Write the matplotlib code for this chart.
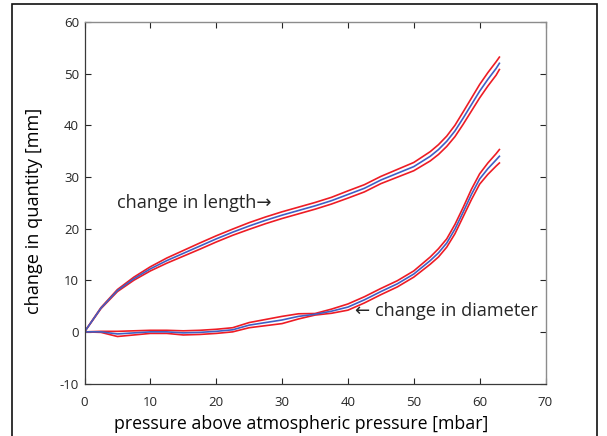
import matplotlib
matplotlib.use("Agg")
import matplotlib.pyplot as plt
from matplotlib.patches import Rectangle
import numpy as np

# pressure above atmospheric [mbar]
pressure = [0, 2.5, 5, 7.5, 10, 12.5, 15, 17.5, 20, 22.5, 25, 27.5, 30, 32.5,
            35, 37.5, 40, 42.5, 45, 47.5, 50, 52.5, 53.75, 55, 56.25, 57.5,
            58.75, 60, 61.25, 62.5, 63]

# change in length [mm]: mean and spread
length_mean = [0, 4.6, 8.0, 10.3, 12.2, 13.8, 15.2, 16.6, 18.0, 19.3, 20.5,
               21.6, 22.6, 23.5, 24.4, 25.4, 26.6, 27.8, 29.4, 30.7, 32.0,
               34.0, 35.3, 36.9, 38.9, 41.4, 44.0, 46.6, 48.9, 51.0, 52.0]
length_std = [0, 0.1, 0.2, 0.3, 0.4, 0.5, 0.55, 0.6, 0.6, 0.6, 0.65, 0.65,
              0.65, 0.65, 0.65, 0.65, 0.7, 0.7, 0.7, 0.75, 0.8, 0.9, 0.95,
              1.0, 1.1, 1.2, 1.25, 1.3, 1.3, 1.3, 1.2]

# change in diameter [mm]: mean and spread
diam_mean = [0, 0, -0.4, -0.2, 0.0, 0.0, -0.2, -0.1, 0.1, 0.4, 1.3, 1.8, 2.3,
             3.0, 3.4, 4.0, 4.8, 6.2, 7.8, 9.3, 11.2, 13.8, 15.3, 17.2, 19.9,
             23.2, 26.6, 29.6, 31.6, 33.3, 34.0]
diam_std = [0, 0.1, 0.5, 0.4, 0.3, 0.3, 0.4, 0.4, 0.4, 0.4, 0.5, 0.6, 0.7, 0.5,
            0.15, 0.4, 0.6, 0.6, 0.6, 0.6, 0.6, 0.7, 0.8, 0.8, 0.9, 0.9, 1.0,
            1.0, 1.1, 1.2, 1.3]

x_ticks = [0, 10, 20, 30, 40, 50, 60, 70]
y_ticks = [-10, 0, 10, 20, 30, 40, 50, 60]

_BLUE = "#3f5fc4"
_RED = "#ee1c25"
_TEXT = "#262626"
_FAMILY = ["Open Sans", "DejaVu Sans"]

plt.rcParams.update({
    "font.family": _FAMILY,
    "axes.unicode_minus": False,
    "text.color": _TEXT,
    "xtick.color": _TEXT,
    "ytick.color": _TEXT,
})

fig = plt.figure(figsize=(6.07, 4.36), dpi=100)
ax = fig.add_axes([84.5 / 607, 52.5 / 436, 461 / 607, 361.5 / 436])

p = np.array(pressure)
for mean, std in ((length_mean, length_std), (diam_mean, diam_std)):
    m = np.array(mean)
    s = np.array(std)
    ax.plot(p, m + s, color=_RED, lw=1.2)
    ax.plot(p, m - s, color=_RED, lw=1.2)
    ax.plot(p, m, color=_BLUE, lw=1.2)

ax.set_xlim(0, 70)
ax.set_ylim(-10, 60)
ax.set_xticks(x_ticks)
ax.set_yticks(y_ticks)
ax.tick_params(direction="in", length=4, width=0.8, labelsize=9.5,
               top=True, right=True)
ax.tick_params(axis="x", pad=9)
ax.tick_params(axis="y", pad=4)
for side in ("left", "bottom"):
    ax.spines[side].set_color("#3a3a3a")
    ax.spines[side].set_linewidth(0.9)
for side in ("top", "right"):
    ax.spines[side].set_color("#8c8c8c")
    ax.spines[side].set_linewidth(1.0)

ax.set_xlabel("pressure above atmospheric pressure [mbar]", fontsize=12.8)
ax.xaxis.set_label_coords(0.4696, -0.088)
ax.set_ylabel("change in quantity [mm]", fontsize=13.1)
ax.yaxis.set_label_coords(-0.09, 0.477)

ax.text(4.9, 25.0, "change in length\u2192", fontsize=13.1, va="center",
        family=_FAMILY)
ax.text(41.0, 4.1, "\u2190 change in diameter", fontsize=13.1, va="center",
        family=_FAMILY)

fig.patches.append(Rectangle((12 / 607, -0.05), 585 / 607, 1.05 - 4 / 436,
                             transform=fig.transFigure, fill=False,
                             edgecolor="#111111", lw=1.2))

fig.savefig("out.png", dpi=100)
